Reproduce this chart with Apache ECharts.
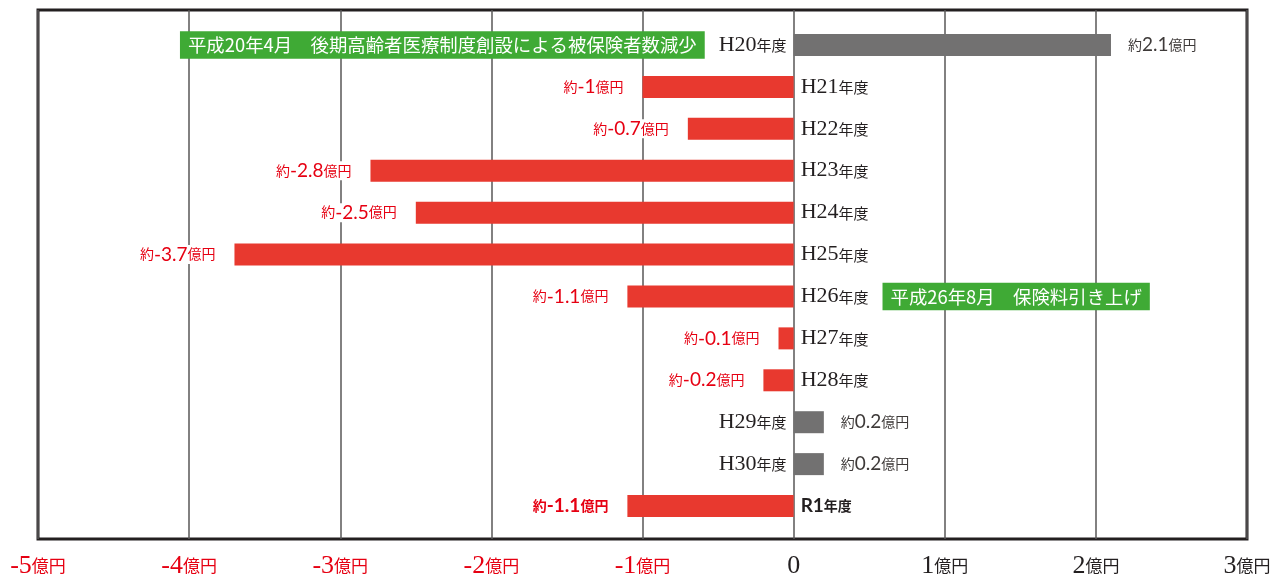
<!DOCTYPE html>
<html>
<head>
<meta charset="utf-8">
<script src="https://cdn.jsdelivr.net/npm/echarts@6/dist/echarts.min.js"></script>
<style>
html, body { margin: 0; padding: 0; background: #fff; }
#chart { width: 1280px; height: 579px; }
</style>
</head>
<body>
<div id="chart"></div>
<script>
// 年度ごとの収支（億円）
const categories = ['H20', 'H21', 'H22', 'H23', 'H24', 'H25', 'H26', 'H27', 'H28', 'H29', 'H30', 'R1'];
const values = [2.1, -1, -0.7, -2.8, -2.5, -3.7, -1.1, -0.1, -0.2, 0.2, 0.2, -1.1];
const notes = ['平成20年4月　後期高齢者医療制度創設による被保険者数減少', '', '', '', '', '', '平成26年8月　保険料引き上げ', '', '', '', '', ''];
const boldCategory = 'R1';
const xMin = -5, xMax = 3, xStep = 1;

const RED = '#e8392f', GRAY = '#727171', TXT_RED = '#e60012', DARK = '#231f20', GREEN = '#3faa35';
const serif = '"Liberation Serif", "DejaVu Serif", serif';
const jp = '"Noto Sans CJK JP", sans-serif';
const sans = 'Lato, "Noto Sans", sans-serif';

// 値ラベル用 rich（赤・灰・太字赤）
function valueRich(prefix, color, weight) {
    let r = {}
    r[prefix + 'y'] = { color: color, fontFamily: jp, fontSize: 14, fontWeight: weight, padding: [0, 0, 3, 0], verticalAlign: 'bottom' }
    r[prefix + 'v'] = { color: color, fontFamily: sans, fontSize: 19, fontWeight: weight, verticalAlign: 'bottom' }
    r[prefix + 'u'] = { color: color, fontFamily: jp, fontSize: 14, fontWeight: weight, padding: [0, 0, 3, 0], verticalAlign: 'bottom' }
    return r
}
const valRich = Object.assign({}, valueRich('r', TXT_RED, 'normal'), valueRich('g', '#3e3a39', 'normal'), valueRich('b', TXT_RED, 'bold'))

const catRich = {
    h: { color: DARK, fontFamily: serif, fontSize: 22, verticalAlign: 'bottom' },
    n: { color: DARK, fontFamily: jp, fontSize: 15, padding: [0, 0, 3, 0], verticalAlign: 'bottom' },
    hb: { color: DARK, fontFamily: sans, fontSize: 19, fontWeight: 'bold', verticalAlign: 'bottom' },
    nb: { color: DARK, fontFamily: jp, fontSize: 14, fontWeight: 'bold', padding: [0, 0, 3, 0], verticalAlign: 'bottom' },
    gap: { width: 14, fontSize: 10 },
    box: { color: '#fff', backgroundColor: GREEN, fontFamily: jp, fontSize: 18.4, lineHeight: 20, padding: [5, 8, 4, 8], verticalAlign: 'middle' }
}

const barData = values.map((v, i) => ({
    value: v,
    itemStyle: { color: v < 0 ? RED : GRAY },
    label: { position: v < 0 ? 'left' : 'right', distance: v < 0 ? 17 : 15 }
}))

const nameData = values.map((v, i) => ({
    value: v,
    label: { position: v < 0 ? 'right' : 'left', distance: 7 }
}))

let myCharts = echarts.init(document.getElementById('chart'))
let options = {
    animation: false,
    grid: [
        { left: 38, right: 33, top: 24, bottom: 52 },   // 棒の領域
        { left: 38, right: 33, top: 10, bottom: 39, show: true, borderColor: DARK, borderWidth: 3, backgroundColor: 'transparent' }  // 枠
    ],
    xAxis: [
        { gridIndex: 0, type: 'value', min: xMin, max: xMax, interval: xStep, show: false },
        {
            gridIndex: 1, type: 'value', min: xMin, max: xMax, interval: xStep,
            axisLine: { show: false }, axisTick: { show: false },
            splitLine: { show: true, lineStyle: { color: '#595757', width: 1.5 } },
            axisLabel: {
                margin: 14,
                formatter: function (v) {
                    if (v === 0) return '{z|0}'
                    return v < 0 ? '{rn|' + v + '}{ru|億円}' : '{dn|' + v + '}{du|億円}'
                },
                rich: {
                    z: { color: DARK, fontFamily: serif, fontSize: 26, verticalAlign: 'bottom' },
                    rn: { color: TXT_RED, fontFamily: serif, fontSize: 26, verticalAlign: 'bottom' },
                    ru: { color: TXT_RED, fontFamily: jp, fontSize: 17, padding: [0, 0, 5, 0], verticalAlign: 'bottom' },
                    dn: { color: DARK, fontFamily: serif, fontSize: 26, verticalAlign: 'bottom' },
                    du: { color: DARK, fontFamily: jp, fontSize: 17, padding: [0, 0, 5, 0], verticalAlign: 'bottom' }
                }
            }
        }
    ],
    yAxis: [
        { gridIndex: 0, type: 'category', data: categories, inverse: true, show: false },
        { gridIndex: 1, type: 'value', show: false }
    ],
    series: [
        {
            name: '収支',
            type: 'bar',
            xAxisIndex: 0, yAxisIndex: 0,
            barWidth: 22,
            data: barData,
            z: 3,
            label: {
                show: true,
                backgroundColor: '#fff',
                padding: [0, 2],
                formatter: function (p) {
                    let v = values[p.dataIndex]
                    let k = categories[p.dataIndex] === boldCategory ? 'b' : (v < 0 ? 'r' : 'g')
                    return '{' + k + 'y|約}{' + k + 'v|' + v + '}{' + k + 'u|億円}'
                },
                rich: valRich
            }
        },
        {
            name: '年度',
            type: 'bar',
            xAxisIndex: 0, yAxisIndex: 0,
            barWidth: 22,
            barGap: '-100%',
            silent: true,
            itemStyle: { color: 'rgba(0,0,0,0)' },
            data: nameData,
            z: 4,
            label: {
                show: true,
                formatter: function (p) {
                    let i = p.dataIndex
                    let c = categories[i]
                    let t = c === boldCategory ? '{hb|' + c + '}{nb|年度}' : '{h|' + c + '}{n|年度}'
                    if (notes[i]) {
                        t = values[i] < 0 ? t + '{gap| }{box|' + notes[i] + '}' : '{box|' + notes[i] + '}{gap| }' + t
                    }
                    return t
                },
                rich: catRich
            }
        }
    ]
}
myCharts.setOption(options)
</script>
</body>
</html>
